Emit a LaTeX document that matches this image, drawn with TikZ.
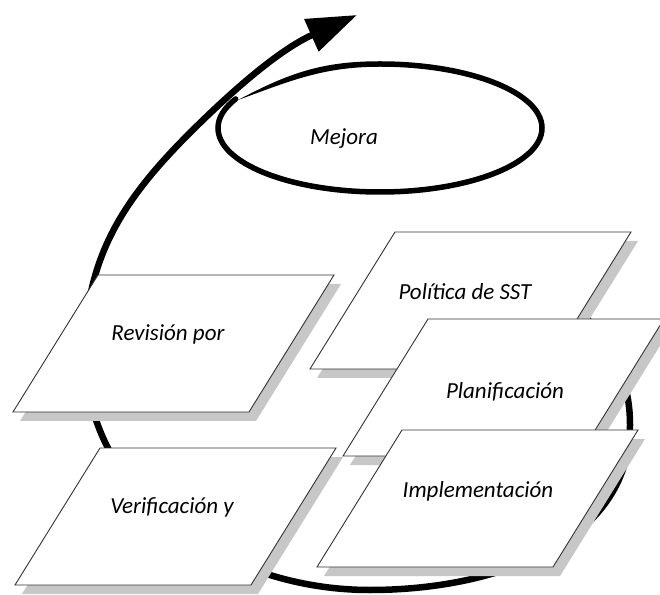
\documentclass[tikz,border=0pt]{standalone}
\usepackage{fontspec}
\setmainfont{Carlito}
\usetikzlibrary{arrows.meta}

% one card of the cycle: name, top left corner, text offset, text
\newcommand{\sstcard}[4]{%
  \coordinate (#1) at (#2);
  \fill[card shadow] ([shift={(7,-9)}]#1) -- ++(236,0) -- ++(-85,-137) -- ++(-236,0) -- cycle;
  \draw[card] (#1) -- ++(236,0) -- ++(-85,-137) -- ++(-236,0) -- cycle;
  \node[card text] (#1-text) at ([shift={(#3)}]#1) {#4};
}

\begin{document}
\begin{tikzpicture}[
    x=1pt, y=1pt,
    loop line/.style={line width=6.5pt, line cap=round},
    ring line/.style={line width=5.5pt, line cap=round},
    card/.style={fill=white, draw=black!80, line width=0.9pt, line join=miter},
    card shadow/.style={fill=black!22},
    card text/.style={font=\fontsize{23}{28}\selectfont\itshape, inner sep=0pt}
]
\useasboundingbox (0,0) rectangle (660,594);

% the big cycle arrow
\coordinate (a) at (540,329);
\coordinate (b) at (630,169);
\coordinate (c) at (370,4);
\coordinate (d) at (85,242);
\coordinate (e) at (203,474);
\coordinate (tip) at (357,579);
\draw[loop line, -{Triangle[length=50pt,width=34pt]}]
    (a) to[out=-50,in=90] (b) to[out=-90,in=0] (c)
    to[out=180,in=-90] (d) to[out=90,in=224] (e) to[out=44,in=204] (tip);

% Mejora ring, thin at its start
\coordinate (m0) at (238,494);
\coordinate (m1) at (380,530);
\fill (m0) to[out=28,in=180] ([yshift=2.75]m1) -- ([yshift=-2.75]m1) to[out=180,in=20] (m0);
\draw[ring line] (m1) arc[start angle=90, end angle=-207, x radius=162, y radius=64];
\node[card text] (mejora) at (344,455) {Mejora};

% cards
\sstcard{rev}{98,319}{70,-59}{Revisión por}
\sstcard{ver}{100,146}{72,-59}{Verificación y}
\sstcard{pol}{395,362}{70,-60}{Política de SST}
\sstcard{plan}{428,275}{77,-73}{Planificación}
\sstcard{impl}{402,164}{76,-61}{Implementación}
\end{tikzpicture}
\end{document}
